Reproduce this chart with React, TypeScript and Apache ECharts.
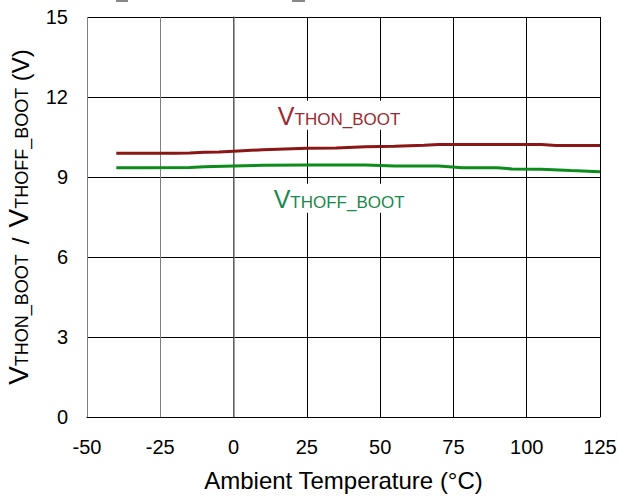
import React, { useEffect, useRef } from "react";
import * as echarts from "echarts";

const xTicks = [-50, -25, 0, 25, 50, 75, 100, 125];
const yTicks = [0, 3, 6, 9, 12, 15];

const thonTemp = [-40, -30, -20, -15, -10, -5, 0, 10, 20, 25, 35, 45, 55, 65, 70, 80, 90, 100, 105, 110, 125];
const thonVolt = [9.89, 9.89, 9.89, 9.9, 9.93, 9.94, 9.97, 10.02, 10.06, 10.08, 10.09, 10.13, 10.15, 10.19, 10.22, 10.22, 10.22, 10.22, 10.22, 10.18, 10.18];

const thoffTemp = [-40, -30, -15, -10, 0, 10, 25, 45, 55, 70, 78, 90, 95, 105, 115, 125];
const thoffVolt = [9.35, 9.35, 9.36, 9.38, 9.41, 9.44, 9.45, 9.45, 9.41, 9.41, 9.35, 9.35, 9.3, 9.29, 9.24, 9.2];

const thonLabelAt = [36, 11.32];
const thoffLabelAt = [36, 8.2];

const FONT = "Liberation Sans, Arial, sans-serif";

export default function App() {
  const ref = useRef<HTMLDivElement>(null);
  useEffect(() => {
    if (!ref.current) return;
    const chart = echarts.init(ref.current, null, { renderer: "svg" });
    const richLabel = (color: string) => ({
      v: { fontSize: 25, color, fontFamily: FONT, verticalAlign: "bottom", lineHeight: 27 },
      s: { fontSize: 17, color, fontFamily: FONT, verticalAlign: "bottom", lineHeight: 27, padding: [0, 0, 1, 0] },
    });
    chart.setOption({
      animation: false,
      backgroundColor: "#ffffff",
      textStyle: { fontFamily: FONT },
      grid: { left: 87, right: 18, top: 17, bottom: 81, containLabel: false, outerBoundsMode: "none" },
      xAxis: {
        type: "value",
        min: xTicks[0],
        max: xTicks[xTicks.length - 1],
        interval: 25,
        name: "Ambient Temperature (°C)",
        nameLocation: "middle",
        nameGap: 51,
        nameTextStyle: { fontSize: 24, color: "#000", fontFamily: FONT },
        axisLine: { show: true, lineStyle: { color: "#000", width: 1 } },
        axisTick: { show: false },
        axisLabel: { fontSize: 20, color: "#000", margin: 20, fontFamily: FONT },
        splitLine: {
          show: true,
          lineStyle: { color: ["#808080", "#808080", "#000", "#000", "#000", "#000", "#000", "#000"], width: 1 },
        },
      },
      yAxis: {
        type: "value",
        min: yTicks[0],
        max: yTicks[yTicks.length - 1],
        interval: 3,
        name: "{v|V}{s|THON_BOOT}{sl|/}{v|V}{s|THOFF_BOOT}{n| (V)}",
        nameLocation: "middle",
        nameGap: 55,
        nameRotate: 90,
        nameTextStyle: {
          fontSize: 24,
          color: "#000",
          fontFamily: FONT,
          rich: {
            v: { fontSize: 28, color: "#000", fontFamily: FONT, verticalAlign: "bottom", lineHeight: 30 },
            s: { fontSize: 18, color: "#000", fontFamily: FONT, verticalAlign: "bottom", lineHeight: 30, padding: [0, 0, 1, 0] },
            sl: { fontSize: 24, color: "#000", fontFamily: FONT, verticalAlign: "bottom", lineHeight: 30, padding: [0, 10, 0, 10] },
            n: { fontSize: 24, color: "#000", fontFamily: FONT, verticalAlign: "bottom", lineHeight: 30 },
          },
        },
        axisLine: { show: true, lineStyle: { color: "#808080", width: 1.5 } },
        axisTick: { show: true, inside: false, length: 6, lineStyle: { color: "#000" } },
        axisLabel: { fontSize: 20, color: "#000", margin: 19, fontFamily: FONT },
        splitLine: { show: true, lineStyle: { color: "#000", width: 1 } },
      },
      graphic: [
        { type: "rect", shape: { x: 116, y: 0, width: 12, height: 2 }, style: { fill: "#888" } },
        { type: "rect", shape: { x: 292, y: 0, width: 13, height: 2 }, style: { fill: "#888" } },
      ],
      series: [
        {
          type: "line",
          name: "VTHON_BOOT",
          data: thonTemp.map((t, i) => [t, thonVolt[i]]),
          showSymbol: false,
          symbol: "none",
          lineStyle: { color: "#8b1616", width: 3 },
          itemStyle: { color: "#8b1616" },
          markPoint: {
            symbol: "circle",
            symbolSize: 0,
            data: [{ coord: thonLabelAt }],
            label: {
              show: true,
              position: "inside",
              formatter: "{v|V}{s|THON_BOOT}",
              backgroundColor: "#fff",
              padding: [1, 4, 1, 4],
              rich: richLabel("#9b2a30"),
            },
          },
        },
        {
          type: "line",
          name: "VTHOFF_BOOT",
          data: thoffTemp.map((t, i) => [t, thoffVolt[i]]),
          showSymbol: false,
          symbol: "none",
          lineStyle: { color: "#0c8c1a", width: 3 },
          itemStyle: { color: "#0c8c1a" },
          markPoint: {
            symbol: "circle",
            symbolSize: 0,
            data: [{ coord: thoffLabelAt }],
            label: {
              show: true,
              position: "inside",
              formatter: "{v|V}{s|THOFF_BOOT}",
              backgroundColor: "#fff",
              padding: [1, 4, 1, 4],
              rich: richLabel("#1a8a4c"),
            },
          },
        },
      ],
    });
    return () => chart.dispose();
  }, []);
  return <div ref={ref} style={{ width: 618, height: 498, position: "absolute", left: 0, top: 0 }} />;
}
